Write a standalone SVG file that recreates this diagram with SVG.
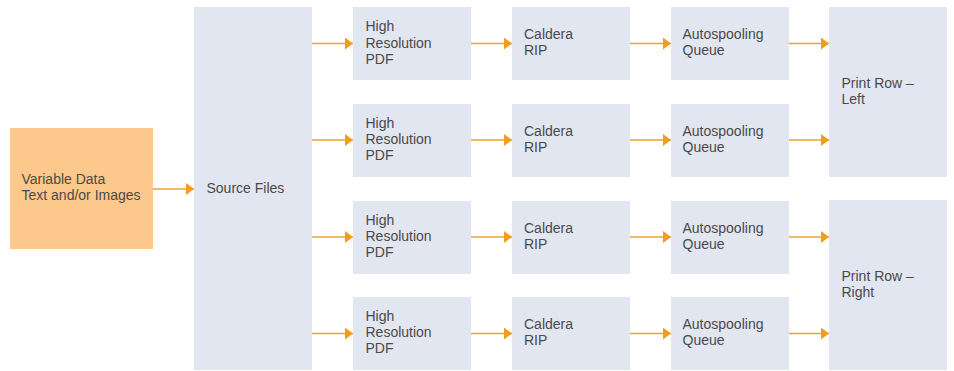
<svg xmlns="http://www.w3.org/2000/svg" width="954" height="371" viewBox="0 0 954 371">
<defs>
<style>
.box{fill:#e1e6f0}
.in{fill:#fdc88b}
text{font-family:"Liberation Sans",Arial,sans-serif;font-size:14px;fill:#4a4a4c}
.c{stroke:#f5a030;stroke-width:1.5;fill:none;marker-end:url(#ah)}
</style>
<marker id="ah" markerUnits="userSpaceOnUse" markerWidth="9" markerHeight="13" refX="8" refY="6" orient="auto" viewBox="0 0 9 13">
<path d="M0,0 L8,6 L0,12 z" fill="#f39c1f"/>
</marker>
</defs>
<rect width="954" height="371" fill="#fff"/>
<g id="variable-data"><rect class="in" x="10" y="128" width="143" height="121"/><text x="21.5" y="183.5">Variable Data</text><text x="21.5" y="199.5">Text and/or Images</text></g>
<g id="source-files"><rect class="box" x="194" y="7" width="118" height="363"/><text x="206.5" y="193">Source Files</text></g>
<g id="pdf1"><rect class="box" x="353" y="7" width="118" height="73"/><text x="365.5" y="31">High</text><text x="365.5" y="47.5">Resolution</text><text x="365.5" y="63.5">PDF</text></g>
<g id="pdf2"><rect class="box" x="353" y="104" width="118" height="73"/><text x="365.5" y="128">High</text><text x="365.5" y="144">Resolution</text><text x="365.5" y="160">PDF</text></g>
<g id="pdf3"><rect class="box" x="353" y="201" width="118" height="73"/><text x="365.5" y="225">High</text><text x="365.5" y="241">Resolution</text><text x="365.5" y="257">PDF</text></g>
<g id="pdf4"><rect class="box" x="353" y="297" width="118" height="73"/><text x="365.5" y="321">High</text><text x="365.5" y="337">Resolution</text><text x="365.5" y="353">PDF</text></g>
<g id="rip1"><rect class="box" x="512" y="7" width="118" height="73"/><text x="524" y="39">Caldera</text><text x="524" y="55">RIP</text></g>
<g id="rip2"><rect class="box" x="512" y="104" width="118" height="73"/><text x="524" y="136">Caldera</text><text x="524" y="152">RIP</text></g>
<g id="rip3"><rect class="box" x="512" y="201" width="118" height="73"/><text x="524" y="233">Caldera</text><text x="524" y="249">RIP</text></g>
<g id="rip4"><rect class="box" x="512" y="297" width="118" height="73"/><text x="524" y="329">Caldera</text><text x="524" y="345">RIP</text></g>
<g id="queue1"><rect class="box" x="671" y="7" width="118" height="73"/><text x="682.5" y="39">Autospooling</text><text x="682.5" y="55">Queue</text></g>
<g id="queue2"><rect class="box" x="671" y="104" width="118" height="73"/><text x="682.5" y="136">Autospooling</text><text x="682.5" y="152">Queue</text></g>
<g id="queue3"><rect class="box" x="671" y="201" width="118" height="73"/><text x="682.5" y="233">Autospooling</text><text x="682.5" y="249">Queue</text></g>
<g id="queue4"><rect class="box" x="671" y="297" width="118" height="73"/><text x="682.5" y="329">Autospooling</text><text x="682.5" y="345">Queue</text></g>
<g id="print-left"><rect class="box" x="829" y="7" width="118" height="170"/><text x="841.5" y="87.5">Print Row –</text><text x="841.5" y="103.5">Left</text></g>
<g id="print-right"><rect class="box" x="829" y="200" width="118" height="170"/><text x="841.5" y="280.5">Print Row –</text><text x="841.5" y="296.5">Right</text></g>
<g id="connectors">
<path class="c" d="M153,189 H194"/>
<path class="c" d="M312,43.5 H353"/>
<path class="c" d="M312,140 H353"/>
<path class="c" d="M312,237 H353"/>
<path class="c" d="M312,333.5 H353"/>
<path class="c" d="M471,43.5 H512"/>
<path class="c" d="M471,140 H512"/>
<path class="c" d="M471,237 H512"/>
<path class="c" d="M471,333.5 H512"/>
<path class="c" d="M630,43.5 H671"/>
<path class="c" d="M630,140 H671"/>
<path class="c" d="M630,237 H671"/>
<path class="c" d="M630,333.5 H671"/>
<path class="c" d="M789,43.5 H829"/>
<path class="c" d="M789,140 H829"/>
<path class="c" d="M789,237 H829"/>
<path class="c" d="M789,333.5 H829"/>
</g>
</svg>
